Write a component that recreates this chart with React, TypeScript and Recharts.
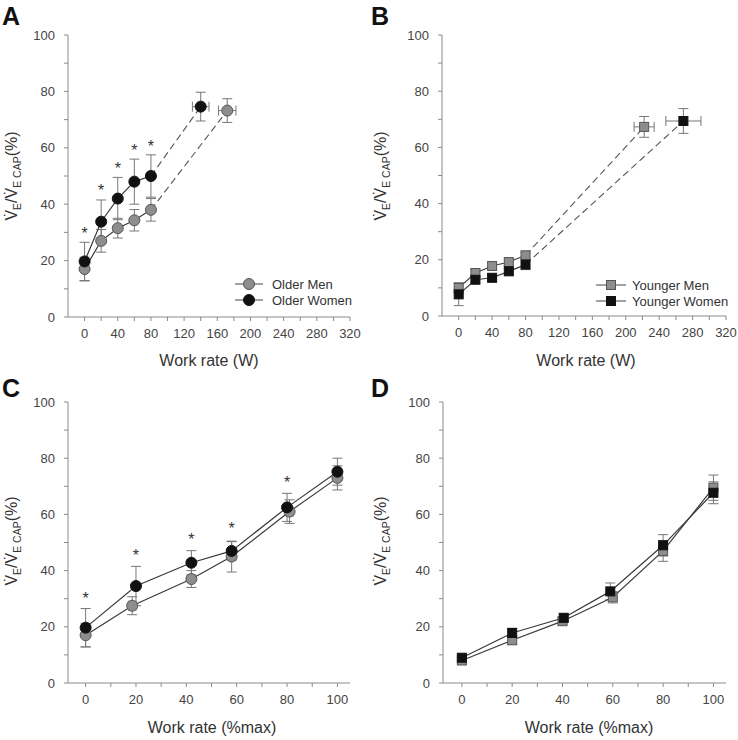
import React from "react"
import { ScatterChart, Scatter, XAxis, YAxis, ErrorBar, Label, Legend } from "recharts"

const FONT = '"Liberation Sans", Arial, Helvetica, sans-serif'

// A: older adults vs absolute work rate (W)
const olderMenWatts = [0, 20, 40, 60, 80, 172]
const olderMenA = [17, 27, 31.5, 34.3, 38, 73.2]
const olderMenSdA = [4.2, 4, 3.5, 3.8, 4, 4.2]
const olderMenWattsSd = [0, 0, 0, 0, 0, 10.5]
const olderWomenWatts = [0, 20, 40, 60, 80, 140]
const olderWomenA = [19.7, 33.8, 42, 48, 50, 74.6]
const olderWomenSdA = [6.8, 7.7, 7.5, 8, 7.5, 5.1]
const olderWomenWattsSd = [0, 0, 0, 0, 0, 10]
const starXA = [0, 20, 40, 60, 80]
const starYA = [31, 46, 53.8, 60.4, 61.8]

// B: younger adults vs absolute work rate (W)
const youngerMenWatts = [0, 20, 40, 60, 80, 222]
const youngerMenB = [10, 15.3, 17.8, 19.2, 21.6, 67.3]
const youngerMenSdB = [1.8, 1.2, 1, 1, 1, 3.7]
const youngerMenWattsSd = [0, 0, 0, 0, 0, 12]
const youngerWomenWatts = [0, 20, 40, 60, 80, 269]
const youngerWomenB = [7.7, 12.9, 13.6, 15.9, 18.3, 69.4]
const youngerWomenSdB = [4, 1, 0.8, 1, 1.8, 4.4]
const youngerWomenWattsSd = [0, 0, 0, 0, 0, 21]

// C: older adults vs relative work rate (%max)
const olderMenPctMax = [0, 18.5, 42, 58, 81, 100]
const olderMenC = [17, 27.5, 37, 45, 61, 73]
const olderMenSdC = [4.2, 3.2, 3, 5.5, 4.2, 4.3]
const olderMenPctSd = [0, 1.5, 0, 0, 1.5, 0]
const olderWomenPctMax = [0, 20, 42, 58, 80, 100]
const olderWomenC = [19.7, 34.5, 42.8, 47, 62.5, 75.2]
const olderWomenSdC = [6.8, 7, 4.3, 3.3, 5, 4.8]
const olderWomenPctSd = [0, 0, 0, 0, 0, 0]
const starXC = [0, 20, 42, 58, 80]
const starYC = [31.2, 46.6, 52.3, 56.1, 72.7]

// D: younger adults vs relative work rate (%max)
const youngerMenPctMax = [0, 20, 40, 60, 80, 100]
const youngerMenD = [8, 15.2, 22, 30.5, 47, 69.5]
const youngerMenSdD = [1, 1.5, 1, 2, 3.7, 4.5]
const youngerWomenPctMax = [0, 20, 40.5, 59, 80, 100]
const youngerWomenD = [9, 17.8, 23.2, 32.6, 49, 67.7]
const youngerWomenSdD = [1, 1.7, 1.3, 3, 3.8, 3.9]
const noSd = [0, 0, 0, 0, 0, 0]

const yTicks = [0, 10, 20, 30, 40, 50, 60, 70, 80, 90, 100]
const wattTicks = [0, 20, 40, 60, 80, 100, 120, 140, 160, 180, 200, 220, 240, 260, 280, 300, 320]
const pctTicks = [0, 10, 20, 30, 40, 50, 60, 70, 80, 90, 100]

const GRAY = "#8d8d8d"
const BLACK = "#111"
const AXIS = "#8a8a8a"

type Row = { x: number; y: number; ey: number; ex: number }
type Series = { name: string; marker: "circle" | "square"; fill: string; stroke: string; rows: Row[] }

const rows = (xs: number[], ys: number[], ey: number[], ex: number[]): Row[] =>
  xs.map((x, i) => ({ x, y: ys[i], ey: ey[i], ex: ex[i] }))

const empty = () => <g />

const markerShape = (s: Series) => (p: any) =>
  s.marker === "circle" ? (
    <circle cx={p.cx} cy={p.cy} r={5.5} fill={s.fill} stroke={s.stroke} strokeWidth={1} />
  ) : (
    <rect x={p.cx - 4.5} y={p.cy - 4.5} width={9} height={9} fill={s.fill} stroke={s.stroke} strokeWidth={1} />
  )

const starShape = (p: any) => (
  <text x={p.cx} y={p.cy + 9} textAnchor="middle" fontSize={16} fill="#333" fontFamily={FONT}>
    *
  </text>
)

const xTick = (step: number) => (p: any) =>
  p.payload.value % step !== 0 ? (
    <g />
  ) : (
    <text x={p.x} y={p.y} dy="0.71em" textAnchor="middle" fontSize={13} fill="#444" fontFamily={FONT}>
      {p.payload.value}
    </text>
  )

const yTick = (p: any) =>
  p.payload.value % 20 !== 0 ? (
    <g />
  ) : (
    <text x={p.x} y={p.y} dy="0.355em" textAnchor="end" fontSize={13} fill="#444" fontFamily={FONT}>
      {p.payload.value}
    </text>
  )

interface PanelProps {
  letter: string
  left: number
  top: number
  letterY: number
  margin: { top: number; right: number; bottom: number; left: number }
  xDomain: [number, number]
  xTicks: number[]
  xStep: number
  xTitle: string
  xTitleX: number
  xTitleY: number
  yTitleY: number
  series: Series[]
  dashFrom?: number
  stars?: Row[]
  legend?: { left: number; top: number; lineW: number; textX: number }
}

function Panel(props: PanelProps) {
  const { series, dashFrom, stars, legend } = props
  const W = 369
  const H = 370

  const renderLegend = () => (
    <svg width={150} height={36}>
      {series.map((s, i) => (
        <g key={s.name}>
          <line x1={0} x2={legend!.lineW} y1={8 + i * 16} y2={8 + i * 16} stroke="#444" strokeWidth={1} />
          {markerShape(s)({ cx: legend!.lineW / 2, cy: 8 + i * 16 })}
          <text x={legend!.textX} y={8 + i * 16} dy="0.36em" fontSize={13} fill="#333" fontFamily={FONT}>
            {s.name}
          </text>
        </g>
      ))}
    </svg>
  )

  return (
    <div style={{ position: "absolute", left: props.left, top: props.top, width: W, height: H }}>
      <ScatterChart width={W} height={H} margin={props.margin}>
        <XAxis
          type="number"
          dataKey="x"
          domain={props.xDomain}
          ticks={props.xTicks}
          interval={0}
          allowDataOverflow
          height={50}
          tickSize={4}
          tickMargin={8}
          axisLine={{ stroke: AXIS }}
          tickLine={{ stroke: AXIS }}
          tick={xTick(props.xStep)}
        >
          <Label
            content={() => (
              <text x={props.xTitleX} y={props.xTitleY} textAnchor="middle" fontSize={16} fill="#333" fontFamily={FONT}>
                {props.xTitle}
              </text>
            )}
          />
        </XAxis>
        <YAxis
          type="number"
          dataKey="y"
          domain={[0, 100]}
          ticks={yTicks}
          interval={0}
          allowDataOverflow
          width={60}
          tickSize={4}
          tickMargin={9}
          axisLine={{ stroke: AXIS }}
          tickLine={{ stroke: AXIS }}
          tick={yTick}
        >
          <Label
            content={() => (
              <text
                x={17}
                y={props.yTitleY}
                transform={`rotate(-90, 17, ${props.yTitleY})`}
                textAnchor="middle"
                fontSize={16}
                fill="#333"
                fontFamily={FONT}
              >
                <tspan>{"V\u0307"}</tspan>
                <tspan fontSize={10.5} dy={4}>E</tspan>
                <tspan dy={-4}>{"/V\u0307"}</tspan>
                <tspan fontSize={10.5} dy={4}>E CAP</tspan>
                <tspan dy={-4}>(%)</tspan>
              </text>
            )}
          />
        </YAxis>

        {dashFrom !== undefined &&
          series.map((s) => (
            <Scatter
              key={s.name + "-dash"}
              data={s.rows.slice(dashFrom)}
              shape={empty}
              line={{ stroke: "#555", strokeWidth: 1.1, strokeDasharray: "7 4" }}
              legendType="none"
              isAnimationActive={false}
            />
          ))}
        {series.map((s) => (
          <Scatter
            key={s.name + "-line"}
            data={dashFrom !== undefined ? s.rows.slice(0, dashFrom + 1) : s.rows}
            shape={empty}
            line={{ stroke: "#3a3a3a", strokeWidth: 1.2 }}
            legendType="none"
            isAnimationActive={false}
          />
        ))}
        {series.map((s) => (
          <Scatter
            key={s.name + "-xerr"}
            data={s.rows.filter((r) => r.ex > 0)}
            shape={empty}
            legendType="none"
            isAnimationActive={false}
          >
            <ErrorBar dataKey="ex" direction="x" width={5} stroke="#777" strokeWidth={1} />
          </Scatter>
        ))}
        {series.map((s) => (
          <Scatter key={s.name} name={s.name} data={s.rows} shape={markerShape(s)} isAnimationActive={false}>
            <ErrorBar dataKey="ey" direction="y" width={5} stroke="#777" strokeWidth={1} />
          </Scatter>
        ))}
        {stars && <Scatter data={stars} shape={starShape} legendType="none" isAnimationActive={false} />}

        {legend && (
          <Legend
            layout="vertical"
            align="center"
            verticalAlign="middle"
            content={renderLegend}
            wrapperStyle={{ left: legend.left, top: legend.top, width: 150, height: 36 }}
          />
        )}
      </ScatterChart>
      <div
        style={{
          position: "absolute",
          left: 2,
          top: props.letterY - 22,
          fontFamily: FONT,
          fontWeight: "bold",
          fontSize: 25,
          lineHeight: "26px",
          color: "#111",
        }}
      >
        {props.letter}
      </div>
    </div>
  )
}

const seriesA: Series[] = [
  { name: "Older Men", marker: "circle", fill: GRAY, stroke: "#555", rows: rows(olderMenWatts, olderMenA, olderMenSdA, olderMenWattsSd) },
  { name: "Older Women", marker: "circle", fill: BLACK, stroke: BLACK, rows: rows(olderWomenWatts, olderWomenA, olderWomenSdA, olderWomenWattsSd) },
]
const seriesB: Series[] = [
  { name: "Younger Men", marker: "square", fill: GRAY, stroke: "#555", rows: rows(youngerMenWatts, youngerMenB, youngerMenSdB, youngerMenWattsSd) },
  { name: "Younger Women", marker: "square", fill: BLACK, stroke: BLACK, rows: rows(youngerWomenWatts, youngerWomenB, youngerWomenSdB, youngerWomenWattsSd) },
]
const seriesC: Series[] = [
  { name: "Older Men", marker: "circle", fill: GRAY, stroke: "#555", rows: rows(olderMenPctMax, olderMenC, olderMenSdC, olderMenPctSd) },
  { name: "Older Women", marker: "circle", fill: BLACK, stroke: BLACK, rows: rows(olderWomenPctMax, olderWomenC, olderWomenSdC, olderWomenPctSd) },
]
const seriesD: Series[] = [
  { name: "Younger Men", marker: "square", fill: GRAY, stroke: "#555", rows: rows(youngerMenPctMax, youngerMenD, youngerMenSdD, noSd) },
  { name: "Younger Women", marker: "square", fill: BLACK, stroke: BLACK, rows: rows(youngerWomenPctMax, youngerWomenD, youngerWomenSdD, noSd) },
]

const starsA = rows(starXA, starYA, noSd, noSd)
const starsC = rows(starXC, starYC, noSd, noSd)

export default function App() {
  return (
    <div style={{ position: "absolute", left: 0, top: 0, width: 738, height: 740, background: "#fff" }}>
      <Panel
        letter="A"
        left={0}
        top={0}
        letterY={25}
        margin={{ top: 35, right: 19, bottom: 3, left: 8 }}
        xDomain={[-20, 320]}
        xTicks={wattTicks}
        xStep={40}
        xTitle="Work rate (W)"
        xTitleX={209}
        xTitleY={366}
        yTitleY={176}
        series={seriesA}
        dashFrom={4}
        stars={starsA}
        legend={{ left: 235, top: 276, lineW: 28, textX: 37 }}
      />
      <Panel
        letter="B"
        left={369}
        top={0}
        letterY={25}
        margin={{ top: 35, right: 12, bottom: 4, left: 13 }}
        xDomain={[-20, 320]}
        xTicks={wattTicks}
        xStep={40}
        xTitle="Work rate (W)"
        xTitleX={217}
        xTitleY={366}
        yTitleY={176}
        series={seriesB}
        dashFrom={4}
        legend={{ left: 227, top: 277, lineW: 30, textX: 36 }}
      />
      <Panel
        letter="C"
        left={0}
        top={370}
        letterY={27}
        margin={{ top: 32, right: 19, bottom: 7, left: 8 }}
        xDomain={[-7, 105]}
        xTicks={pctTicks}
        xStep={20}
        xTitle="Work rate (%max)"
        xTitleX={212}
        xTitleY={363}
        yTitleY={171}
        series={seriesC}
        stars={starsC}
      />
      <Panel
        letter="D"
        left={369}
        top={370}
        letterY={27}
        margin={{ top: 32, right: 12, bottom: 7, left: 14 }}
        xDomain={[-7.5, 105]}
        xTicks={pctTicks}
        xStep={20}
        xTitle="Work rate (%max)"
        xTitleX={220}
        xTitleY={363}
        yTitleY={171}
        series={seriesD}
      />
    </div>
  )
}
